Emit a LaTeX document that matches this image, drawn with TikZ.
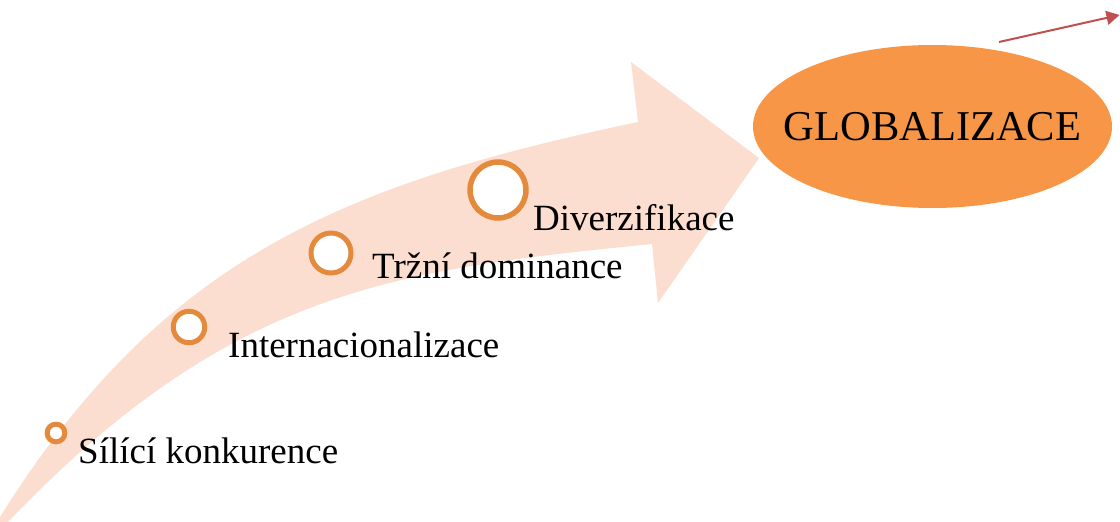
\documentclass[tikz,border=0pt]{standalone}
\usepackage{fontspec}
\setmainfont{Liberation Serif}
\usetikzlibrary{shapes.geometric,arrows.meta}
\definecolor{bandfill}{RGB}{252,222,209}
\definecolor{ringcol}{RGB}{228,138,60}
\definecolor{ellfill}{RGB}{247,150,70}
\definecolor{redline}{RGB}{192,80,77}
\tikzset{
  ring/.style={circle, draw=ringcol, fill=white, line width=5pt, inner sep=0pt},
  lbl/.style={anchor=base west, inner sep=0pt, font=\fontsize{37}{40}\selectfont},
  globe/.style={ellipse, fill=ellfill, inner xsep=-60pt, inner ysep=0pt,
     minimum width=359pt, minimum height=163pt,
     font=\fontsize{42.5}{45}\selectfont},
  redarrow/.style={draw=redline, line width=2pt, -{Triangle[length=13pt,width=14pt]}}
}
\begin{document}
\begin{tikzpicture}[x=1pt,y=-1pt]
\useasboundingbox (0,0) rectangle (1120,522);
\begin{scope}
\clip (0,0) rectangle (1120,522);
\fill[bandfill] (-6,527) -- (0,517) .. controls (162.5,257) and (345,183.6) .. (638,122)
  -- (631,62) -- (759,158) -- (658,303) -- (652,244)
  .. controls (392.8,269.9) and (230,290) .. (8,522) -- (6,530) -- cycle;
\end{scope}
\node[ring, minimum size=17.7pt] (r1) at (56,433) {};
\node[ring, minimum size=31.5pt] (r2) at (189,327) {};
\node[ring, minimum size=40pt] (r3) at (331,253) {};
\node[ring, minimum size=56pt, line width=5.5pt] (r4) at (498,190) {};
\node[lbl] (t1) at (78,463) {Sílící konkurence};
\node[lbl] (t2) at (228,357) {Internacionalizace};
\node[lbl] (t3) at (372,278) {Tržní dominance};
\node[lbl] (t4) at (533,230) {Diverzifikace};
\node[globe] (g) at (932.5,126.5) {GLOBALIZACE};
\coordinate (rs) at (999,42);
\coordinate (re) at (1119.5,15);
\draw[redarrow] (rs) -- (re);
\end{tikzpicture}
\end{document}
